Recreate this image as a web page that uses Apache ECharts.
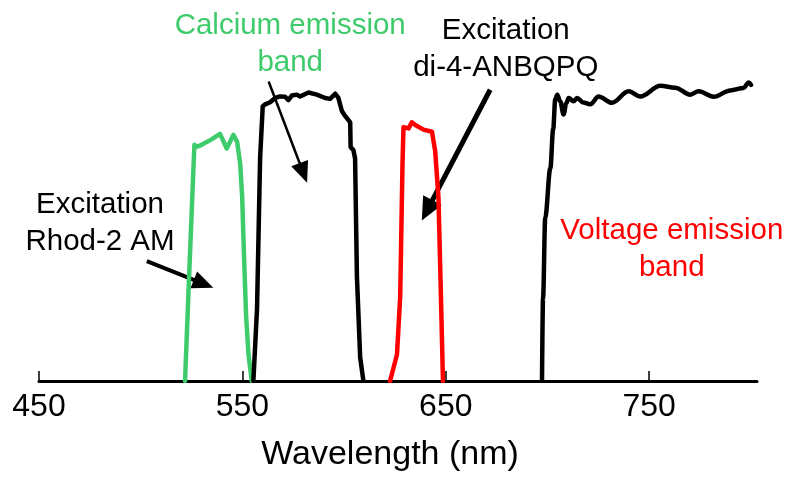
<!DOCTYPE html>
<html>
<head>
<meta charset="utf-8">
<script src="https://cdn.jsdelivr.net/npm/echarts@6/dist/echarts.min.js"></script>
<style>
html,body{margin:0;padding:0;background:#fff;}
#chart{width:787px;height:477px;}
</style>
</head>
<body>
<div id="chart"></div>
<script>
// ---- Data (wavelength nm, relative transmission) ----
const wavelengthTicks = [450, 550, 650, 750];

const rhodExcitation = [
  [521.8,0],[523.8,34.5],[526.4,77.7],[527.7,77.1],[529.7,77.6],[534.6,79.4],
  [539.0,81.3],[542.3,76.5],[545.6,81.0],[547.4,78.7],[548.9,71.6],[549.9,60.3],
  [550.8,41.0],[551.8,21.6],[553.0,8.7],[554.6,0]
];

const calciumEmission = [
  [555.4,0],[557.2,23.9],[558.7,73.2],[560.0,90.4],[561.2,91.0],[563.6,91.7],
  [566.1,93.1],[568.5,93.6],[571.0,93.5],[572.6,92.4],[574.3,93.9],[576.8,94.2],
  [578.4,93.6],[582.5,94.9],[586.6,94.2],[590.7,93.1],[593.1,92.8],[595.6,94.5],
  [597.2,93.1],[598.9,88.8],[600.5,87.2],[603.0,85.1],[603.2,77.0],[604.6,75.9],
  [605.4,73.2],[606.3,34.5],[607.9,7.7],[609.5,0]
];

const di4Excitation = [
  [622.6,0],[626.0,8.7],[627.6,28.1],[628.7,71.1],[629.2,83.5],[631.7,83.1],
  [633.3,85.1],[635.0,84.2],[639.0,82.7],[643.2,82.0],[644.8,75.5],[646.4,60.3],
  [647.6,28.1],[648.6,0]
];

const voltageEmission = [
  [697.3,0],[697.8,27.1],[698.9,53.9],[701.4,70.0],[702.8,82.9],[703.8,92.6],
  [704.8,94.2],[706.3,91.9],[707.9,87.7],[709.2,91.3],[710.4,93.1],[712.8,92.0],
  [714.5,93.1],[717.6,91.6],[721.0,91.0],[725.1,93.6],[731.7,91.5],[739.9,95.3],
  [745.6,93.6],[755.5,97.1],[762.8,96.5],[770.2,94.2],[774.3,95.3],[781.7,93.5],
  [789.9,95.6],[796.4,96.4],[798.9,98.2],[800.1,97.4]
];

const labelTexts = [
  'Calcium emission\nband',
  'Excitation\ndi-4-ANBQPQ',
  'Excitation\nRhod-2 AM',
  'Voltage emission\nband'
];

// ---- Presentation ----
const GREEN = '#3ecb6b';
const RED = '#ff0000';
const BLACK = '#000000';
const FONT = '"Liberation Sans", Arial, sans-serif';

const labelPlacement = [
  {at: [573.5, 110.8], color: GREEN},
  {at: [679.5, 109.2], color: BLACK},
  {at: [480.0, 52.0], color: BLACK},
  {at: [761.1, 43.2], color: RED}
];

const arrowPlacement = [
  {from: [562.9, 98.5], to: [581.8, 65.2], width: 2.5, head: 21, half: 9},
  {from: [671.8, 95.8], to: [638.2, 52.8], width: 5, head: 23, half: 10.5},
  {from: [503.0, 39.4], to: [535.7, 30.7], width: 4, head: 21, half: 9}
];

const chart = echarts.init(document.getElementById('chart'), null, {renderer: 'canvas'});

function lineSeries(data, color, smooth) {
  return {
    type: 'line',
    data: data,
    showSymbol: false,
    symbol: 'none',
    smooth: smooth || false,
    smoothMonotone: 'x',
    lineStyle: {color: color, width: 4.5, join: 'round', cap: 'round'},
    animation: false
  };
}

chart.setOption({
  animation: false,
  backgroundColor: '#ffffff',
  grid: {left: 39, right: 30, top: 77, bottom: 90, containLabel: false},
  xAxis: {
    type: 'value',
    min: 450,
    max: 803,
    interval: 100,
    axisLine: {show: true, lineStyle: {color: BLACK, width: 3}},
    axisTick: {show: true, inside: true, length: 10, customValues: wavelengthTicks,
      lineStyle: {color: BLACK, width: 1.5}},
    axisLabel: {customValues: wavelengthTicks, fontSize: 32, color: BLACK,
      fontFamily: FONT, margin: 10},
    splitLine: {show: false},
    name: 'Wavelength (nm)',
    nameLocation: 'middle',
    nameGap: 57,
    nameTextStyle: {fontSize: 34, color: BLACK, fontFamily: FONT, padding: [0, 16, 0, 0]}
  },
  yAxis: {
    type: 'value', min: 0, max: 100, show: false,
    splitLine: {show: false}
  },
  series: [
    lineSeries(rhodExcitation, GREEN),
    lineSeries(calciumEmission, BLACK),
    lineSeries(di4Excitation, RED),
    lineSeries(voltageEmission, BLACK, 0.35)
  ]
});

function px(p) { return chart.convertToPixel({gridIndex: 0}, p); }

const graphics = [];
labelTexts.forEach(function (txt, i) {
  const p = px(labelPlacement[i].at);
  graphics.push({
    type: 'text',
    x: p[0], y: p[1],
    silent: true,
    style: {
      text: txt,
      fill: labelPlacement[i].color,
      font: '29.5px ' + FONT,
      align: 'center',
      verticalAlign: 'middle',
      lineHeight: 37
    }
  });
});

arrowPlacement.forEach(function (a) {
  const s = px(a.from), t = px(a.to);
  const dx = t[0] - s[0], dy = t[1] - s[1];
  const len = Math.sqrt(dx * dx + dy * dy);
  const ux = dx / len, uy = dy / len;
  const bx = t[0] - ux * a.head, by = t[1] - uy * a.head;
  const nx = -uy, ny = ux;
  graphics.push({
    type: 'line', silent: true,
    shape: {x1: s[0], y1: s[1], x2: bx + ux * 2, y2: by + uy * 2},
    style: {stroke: BLACK, lineWidth: a.width}
  });
  graphics.push({
    type: 'polygon', silent: true,
    shape: {points: [[t[0], t[1]], [bx + nx * a.half, by + ny * a.half], [bx - nx * a.half, by - ny * a.half]]},
    style: {fill: BLACK}
  });
});

chart.setOption({graphic: graphics});
</script>
</body>
</html>
